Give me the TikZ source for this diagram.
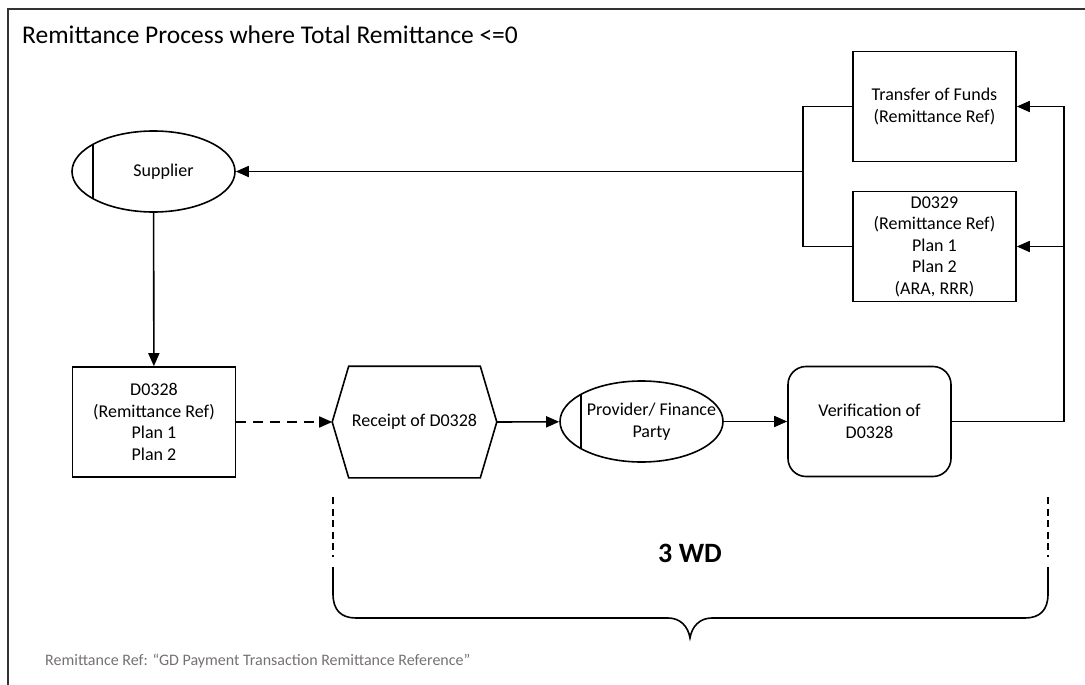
\documentclass[tikz,border=0pt]{standalone}
\usepackage{fontspec}
\setmainfont{Carlito}
\usetikzlibrary{arrows.meta,shapes.geometric}

\definecolor{notegray}{RGB}{118,113,113}

\begin{document}
\begin{tikzpicture}[x=1pt, y=-1pt,
	ln/.style={line width=1.6pt},
	arr/.style={ln, -{Triangle[length=13pt, width=11pt]}},
	box/.style={draw, ln, minimum width=163pt, minimum height=110pt, inner sep=0pt,
		align=center, font=\fontsize{18}{21.5}\selectfont},
	role/.style={draw, ln, ellipse, minimum width=163pt, minimum height=81pt, inner sep=0pt,
		path picture={\draw[ln] ([xshift=21pt]path picture bounding box.south west)
			-- ([xshift=21pt]path picture bounding box.north west);}},
	lbl/.style={xshift=10pt, align=center, font=\fontsize{18}{21.5}\selectfont},
	dashline/.style={line width=1.2pt, dash pattern=on 7pt off 4.5pt}]
	\useasboundingbox (0,0) rectangle (1085,685);

	% Rahmen und Titel
	\draw[line width=1.6pt, black!80] (8,685) -- (8,9) -- (1085,9);
	\node[anchor=base west, inner sep=0pt, font=\fontsize{25.5}{30}\selectfont] (title) at (22,44)
		{Remittance Process where Total Remittance <=0};

	% Rollen
	\node[role, label={[lbl]center:Supplier}] (sup) at (153.5,171.5) {};
	\node[role, label={[lbl]center:Provider/ Finance\\Party}] (prov) at (641.5,421.5) {};

	% Dokumente und Schritte
	\node[box] (tof) at (934.5,106.5) {Transfer of Funds\\(Remittance Ref)};
	\node[box] (d329) at (934.5,246.5) {D0329\\(Remittance Ref)\\Plan 1\\Plan 2\\(ARA, RRR)};
	\node[box] (d328) at (154,422) {D0328\\(Remittance Ref)\\Plan 1\\Plan 2};
	\node[box, draw=none] (rcpt) at (414.5,422) {Receipt of D0328};
	\draw[ln] (rcpt.west) -- ([xshift=16.5pt]rcpt.north west) -- ([xshift=-16.5pt]rcpt.north east)
		-- (rcpt.east) -- ([xshift=-16.5pt]rcpt.south east) -- ([xshift=16.5pt]rcpt.south west) -- cycle;
	\node[box, rounded corners=18pt] (verif) at (869.5,421.5) {Verification of\\D0328};

	% Verbindungen
	\coordinate (lbus) at (804,171.5);
	\coordinate (rbus) at (1064,246.5);
	\draw[arr] (sup) -- (d328);
	\draw[arr, dash pattern=on 10pt off 7pt] (d328) -- (rcpt.west);
	\draw[arr] (rcpt.east) -- (prov);
	\draw[arr] (prov) -- (verif);
	\draw[arr] (verif.east) -| (rbus) |- (tof.east);
	\draw[arr] (rbus) -- (d329.east);
	\draw[ln] (tof.west) -- ++(-49,0) |- (d329.west);
	\draw[arr] (lbus) -- (sup.east);

	% Zeitraum
	\foreach \x in {333,1048}
		\draw[dashline] (\x,497) -- (\x,557);
	\draw[ln] (333,567) -- (333,594) .. controls (333,610) and (341,618) .. (356,618)
		-- (668,618) .. controls (680,618) and (688,626) .. (690,638)
		.. controls (692,626) and (700,618) .. (712,618)
		-- (1025,618) .. controls (1040,618) and (1048,610) .. (1048,594) -- (1048,567);
	\node[font=\bfseries\fontsize{28}{32}\selectfont] (wd) at (690,553) {3 WD};

	% Fussnote
	\node[anchor=base west, inner sep=0pt, text=notegray, font=\fontsize{16}{19}\selectfont] (note) at (45,665)
		{Remittance Ref: “GD Payment Transaction Remittance Reference”};
\end{tikzpicture}
\end{document}
